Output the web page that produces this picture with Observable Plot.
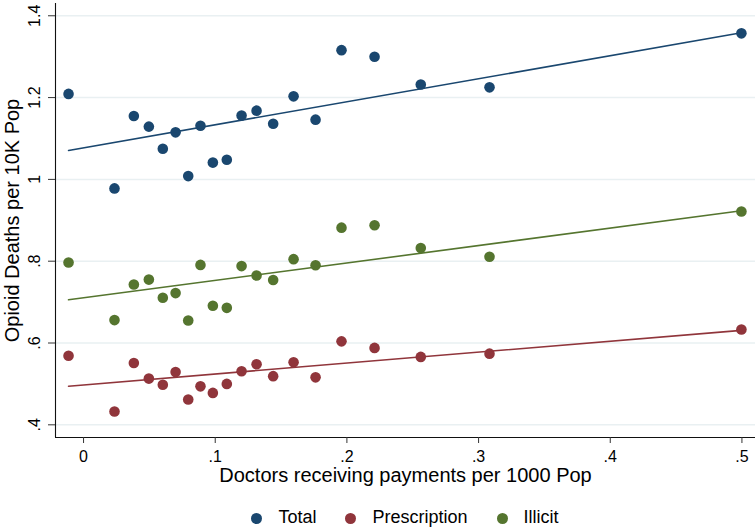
<!DOCTYPE html>
<html>
<head>
<meta charset="utf-8">
<script src="https://cdn.jsdelivr.net/npm/d3@7"></script>
<script src="https://cdn.jsdelivr.net/npm/@observablehq/plot@0.6"></script>
<style>
  html, body { margin: 0; padding: 0; background: #fff; overflow: hidden; }
  body { width: 755px; height: 529px; font-family: "Liberation Sans", Arial, sans-serif; }
  #legend { display: flex; justify-content: center; align-items: center; margin-left: 55px; width: 700px; height: 20px; line-height: 20px; margin-top: 12px; font-size: 18px; color: #000; }
  #legend .item { display: flex; align-items: center; margin: 0 14.5px; }
  #legend .sw { width: 11px; height: 11px; border-radius: 50%; margin-right: 16px; margin-top: 2px; }
</style>
</head>
<body>
<div id="chart"></div>
<div id="legend"></div>
<script>
// Data
const xVals = [-0.0114, 0.0235, 0.0382, 0.0496, 0.0602, 0.0699, 0.0795, 0.0888, 0.0982, 0.1088, 0.1200, 0.1314, 0.1440, 0.1595, 0.1762, 0.1959, 0.2210, 0.2561, 0.3083, 0.4996];
const totalVals = [1.209, 0.978, 1.155, 1.129, 1.075, 1.115, 1.008, 1.131, 1.041, 1.048, 1.156, 1.168, 1.136, 1.203, 1.146, 1.316, 1.300, 1.232, 1.225, 1.357];
const prescriptionVals = [0.569, 0.4325, 0.551, 0.513, 0.498, 0.529, 0.462, 0.494, 0.478, 0.500, 0.531, 0.548, 0.519, 0.553, 0.516, 0.604, 0.588, 0.566, 0.574, 0.633];
const illicitVals = [0.797, 0.656, 0.743, 0.755, 0.7105, 0.722, 0.655, 0.791, 0.691, 0.686, 0.788, 0.765, 0.754, 0.805, 0.790, 0.882, 0.888, 0.832, 0.811, 0.9215];

// Fitted-line values (linear fits) at the smallest and largest x
const fitX = [-0.0114, 0.4996];
const fitTotal = [1.0707, 1.3584];
const fitPrescription = [0.4944, 0.631];
const fitIllicit = [0.7056, 0.9232];

const seriesNames = ["Total", "Prescription", "Illicit"];
const seriesColors = ["#1a476f", "#90353b", "#55752f"];
const xTicks = [0, 0.1, 0.2, 0.3, 0.4, 0.5];
const xTickLabels = ["0", ".1", ".2", ".3", ".4", ".5"];
const yTicks = [0.4, 0.6, 0.8, 1.0, 1.2, 1.4];
const yTickLabels = [".4", ".6", ".8", "1", "1.2", "1.4"];
const xTitle = "Doctors receiving payments per 1000 Pop";
const yTitle = "Opioid Deaths per 10K Pop";

const xDomain = [-0.0213, 0.5103];
const yDomain = [0.369, 1.430];

const seriesValues = [totalVals, prescriptionVals, illicitVals];
const fitValues = [fitTotal, fitPrescription, fitIllicit];
const rows = [];
const fitRows = [];
seriesNames.forEach((s, k) => {
  xVals.forEach((x, i) => rows.push({series: s, x, y: seriesValues[k][i]}));
  fitX.forEach((x, i) => fitRows.push({series: s, x, y: fitValues[k][i]}));
});

const font = "'Liberation Sans', Arial, sans-serif";

const chart = Plot.plot({
  width: 755,
  height: 495,
  marginTop: 3,
  marginBottom: 58,
  marginLeft: 55,
  marginRight: 0,
  style: {fontFamily: font, color: "#000", background: "#fff", overflow: "visible"},
  x: {domain: xDomain},
  y: {domain: yDomain},
  color: {domain: seriesNames, range: seriesColors},
  marks: [
    Plot.gridY(yTicks, {stroke: "#e9f0f2", strokeOpacity: 1, strokeWidth: 1.5}),
    Plot.ruleX([xDomain[0]], {stroke: "#111", strokeWidth: 1.1}),
    Plot.ruleY([yDomain[0]], {stroke: "#111", strokeWidth: 1.1}),
    Plot.axisY({ticks: yTicks, tickSize: 7, tickFormat: () => "", label: null, stroke: "#333"}),
    Plot.text(yTicks, {frameAnchor: "left", y: d => d, text: (d, i) => yTickLabels[i], rotate: -90, dx: -21, fontSize: 16, textAnchor: "middle", lineAnchor: "middle", fill: "#000"}),
    Plot.axisX({ticks: xTicks, tickFormat: (d, i) => xTickLabels[i], tickSize: 6, tickPadding: 7, fontSize: 16, label: null, stroke: "#333", fill: "#000"}),
    Plot.text([xTitle], {frameAnchor: "bottom", dy: 38, fontSize: 20, textAnchor: "middle", lineAnchor: "middle", fill: "#000"}),
    Plot.text([yTitle], {frameAnchor: "left", dx: -43, rotate: -90, fontSize: 20, textAnchor: "middle", lineAnchor: "middle", fill: "#000"}),
    Plot.dot(rows, {x: "x", y: "y", fill: "series", r: 5.3, stroke: "none"}),
    Plot.line(fitRows, {x: "x", y: "y", stroke: "series", z: "series", strokeWidth: 1.6})
  ]
});
document.getElementById("chart").appendChild(chart);

const legend = document.getElementById("legend");
seriesNames.forEach((s, i) => {
  const item = document.createElement("div");
  item.className = "item";
  const sw = document.createElement("span");
  sw.className = "sw";
  sw.style.background = seriesColors[i];
  const lab = document.createElement("span");
  lab.textContent = s;
  item.appendChild(sw);
  item.appendChild(lab);
  legend.appendChild(item);
});
</script>
</body>
</html>
